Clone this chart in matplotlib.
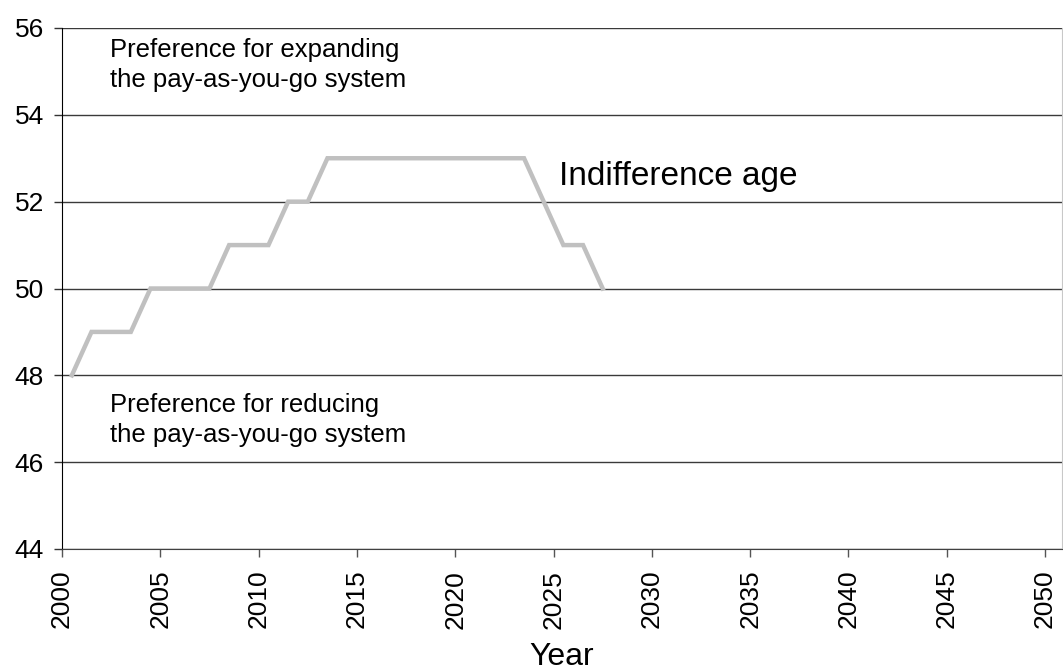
import matplotlib
matplotlib.use("Agg")
import matplotlib.pyplot as plt

# indifference age by year (plotted at the middle of each year)
years = list(range(2000, 2028))
indiff_age = [48, 49, 49, 49, 50, 50, 50, 50, 51, 51, 51, 52, 52, 53,
              53, 53, 53, 53, 53, 53, 53, 53, 53, 53, 52, 51, 51, 50]

yticks = [44, 46, 48, 50, 52, 54, 56]
xticks = list(range(2000, 2051, 5))

plt.rcParams['font.family'] = ['Liberation Sans', 'DejaVu Sans']

fig = plt.figure(figsize=(10.63, 6.71), dpi=100)
ax = fig.add_axes([62 / 1063, 122 / 671, 1000 / 1063, 521 / 671])

ax.plot([y + 0.5 for y in years], indiff_age, color='#c0c0c0', lw=3.2,
        solid_joinstyle='miter', zorder=3)

ax.set_xlim(2000, 2050.86)
ax.set_ylim(44, 56)
ax.set_yticks(yticks)
ax.set_xticks(xticks)
ax.set_xticklabels([str(x) for x in xticks], rotation=90)
ax.tick_params(axis='y', labelsize=19, length=6, pad=7, width=1, color='#333333')
ax.tick_params(axis='x', labelsize=19, length=6, pad=9, width=1, color='#555555')

ax.grid(axis='y', color='#3a3a3a', lw=1, zorder=1)
ax.set_axisbelow(True)
ax.spines['top'].set_visible(False)
ax.spines['right'].set_color('#c8c8c8')
ax.spines['left'].set_color('black')
ax.spines['bottom'].set_color('#404040')

ax.set_xlabel('Year', fontsize=23, labelpad=10)

ax.text(2002.45, 55.33, 'Preference for expanding', fontsize=18.5, va='baseline')
ax.text(2002.45, 54.64, 'the pay-as-you-go system', fontsize=18.5, va='baseline')
ax.text(2002.45, 47.16, 'Preference for reducing', fontsize=18.5, va='baseline')
ax.text(2002.45, 46.47, 'the pay-as-you-go system', fontsize=18.5, va='baseline')
ax.text(2025.3, 52.38, 'Indifference age', fontsize=24, va='baseline')

fig.savefig('out.png', dpi=100)
